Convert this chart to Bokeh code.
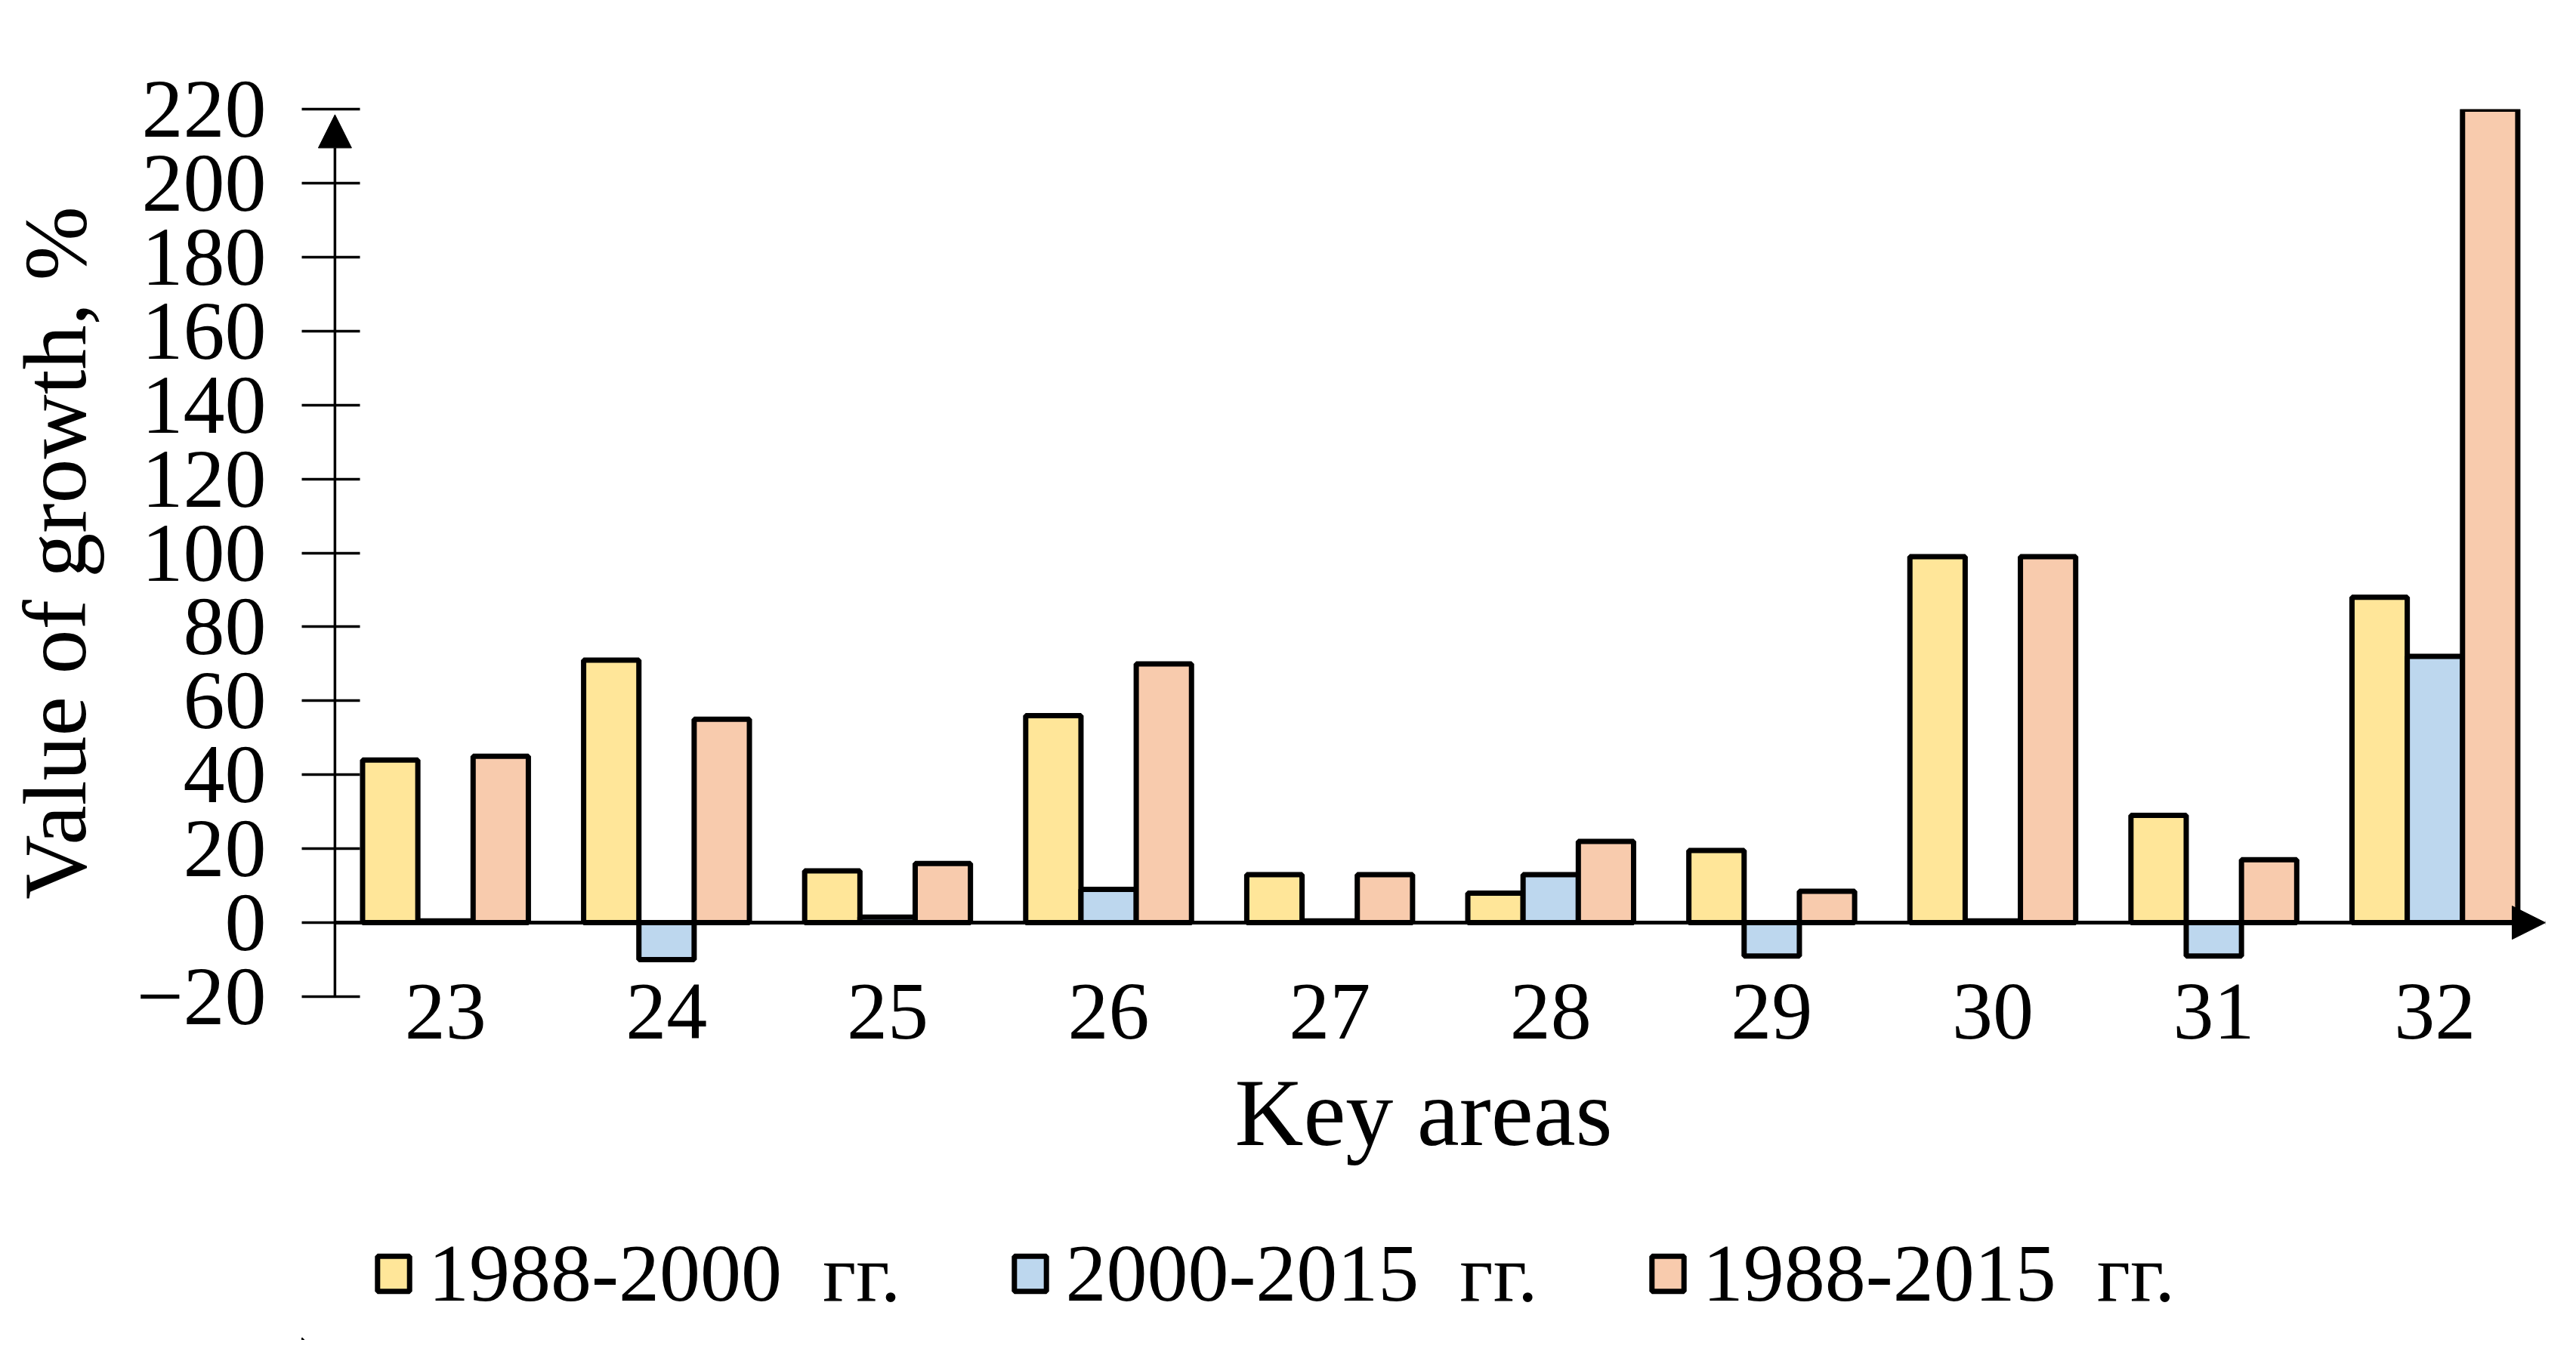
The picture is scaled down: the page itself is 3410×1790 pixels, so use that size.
from bokeh.plotting import figure
from bokeh.layouts import column
from bokeh.models import (ColumnDataSource, Range1d, FixedTicker, Legend,
                          LegendItem, Arrow, NormalHead)
from bokeh.transform import dodge
from bokeh.embed import file_html
from bokeh.resources import INLINE

# ---- data ----
areas = ["23", "24", "25", "26", "27", "28", "29", "30", "31", "32"]
growth_1988_2000 = [44, 71, 14, 56, 13, 8, 19.5, 99, 29, 88]
growth_2000_2015 = [0.5, -10, 1.5, 9, 0.5, 13, -9, 0.5, -9, 72]
growth_1988_2015 = [45, 55, 16, 70, 13, 22, 8.5, 99, 17, 220]
series_labels = ["1988-2000\u00a0 гг.", "2000-2015\u00a0 гг.", "1988-2015\u00a0 гг."]
y_ticks = [-20, 0, 20, 40, 60, 80, 100, 120, 140, 160, 180, 200, 220]

colors = ["#FFE699", "#BDD7EE", "#F8CBAD"]
FONT = "Liberation Serif"
W = 3394
H_MAIN = 1619
H_LEG = 155

centers = [i + 0.5 for i in range(len(areas))]
src = ColumnDataSource(dict(area=areas, xc=centers,
                            a=growth_1988_2000, b=growth_2000_2015, c=growth_1988_2015))
series_cols = ["a", "b", "c"]
offsets = [-0.25, 0.0, 0.25]

p = figure(width=W, height=H_MAIN, output_backend="svg", toolbar_location=None,
           x_range=Range1d(-0.15, len(areas)),
           y_range=Range1d(-20, 220),
           min_border_left=399, min_border_right=25, min_border_top=144, min_border_bottom=300)
p.outline_line_color = None
p.xgrid.grid_line_color = None
p.ygrid.grid_line_color = None
p.background_fill_color = "white"

for col, off, color in zip(series_cols, offsets, colors):
    p.vbar(x=dodge("xc", off), top=col, bottom=0, width=0.25, source=src,
           fill_color=color, line_color="black", line_width=7)

# y axis: ticks/labels from Bokeh's axis, visible axis line drawn as an arrow at x = 0
ya = p.yaxis[0]
ya.ticker = FixedTicker(ticks=y_ticks)
ya.minor_tick_line_color = None
ya.axis_line_color = None
ya.major_tick_line_width = 3.5
ya.major_tick_line_color = "black"
ya.major_tick_in = 77
ya.major_tick_out = 0
ya.major_label_standoff = 47
ya.major_label_text_font = FONT
ya.major_label_text_font_size = "110px"
ya.major_label_text_color = "black"
ya.axis_label = "Value of growth, %"
ya.axis_label_text_font = FONT
ya.axis_label_text_font_size = "118px"
ya.axis_label_text_font_style = "normal"
ya.axis_label_text_color = "black"
ya.axis_label_standoff = 38

# x axis
xa = p.xaxis[0]
xa.ticker = FixedTicker(ticks=centers)
xa.major_label_overrides = {c: a for c, a in zip(centers, areas)}
xa.axis_line_color = None
xa.major_tick_line_color = None
xa.minor_tick_line_color = None
xa.major_tick_out = 0
xa.major_tick_in = 0
xa.major_label_standoff = -16
xa.major_label_text_font = FONT
xa.major_label_text_font_size = "108px"
xa.major_label_text_color = "black"
xa.axis_label = "Key areas"
xa.axis_label_text_font = FONT
xa.axis_label_text_font_size = "126px"
xa.axis_label_text_font_style = "normal"
xa.axis_label_text_color = "black"
xa.axis_label_standoff = 26

# axis lines with arrow heads
p.add_layout(Arrow(end=NormalHead(size=44, fill_color="black", line_color="black"),
                   x_start=0, y_start=0, x_end=len(areas), y_end=0,
                   line_width=5, line_color="black"))
p.add_layout(Arrow(end=NormalHead(size=44, fill_color="black", line_color="black"),
                   x_start=0, y_start=-20, x_end=0, y_end=218.5,
                   line_width=3.5, line_color="black"))

# ---- legend strip below the chart (same series, viewed outside the strip's ranges) ----
p2 = figure(width=W, height=H_LEG, output_backend="svg", toolbar_location=None,
            x_range=Range1d(100, 101), y_range=Range1d(1000, 1001),
            x_axis_location=None, y_axis_location=None, min_border=0)
p2.outline_line_color = None
p2.xgrid.grid_line_color = None
p2.ygrid.grid_line_color = None
swatches = [p2.vbar(x=dodge("xc", off), top=col, bottom=0, width=0.25, source=src,
                    fill_color=c, line_color="black", line_width=7)
            for col, off, c in zip(series_cols, offsets, colors)]
legend = Legend(items=[LegendItem(label=lab, renderers=[r]) for lab, r in zip(series_labels, swatches)],
                orientation="horizontal", location=(95, 26),
                glyph_width=53, glyph_height=58, label_standoff=20, spacing=145,
                padding=0, margin=0, border_line_alpha=0, background_fill_alpha=0,
                label_text_font=FONT, label_text_font_size="108px", label_text_color="black")
p2.add_layout(legend, "center")

open("out.html", "w").write(file_html(column(p, p2, spacing=0), INLINE))
